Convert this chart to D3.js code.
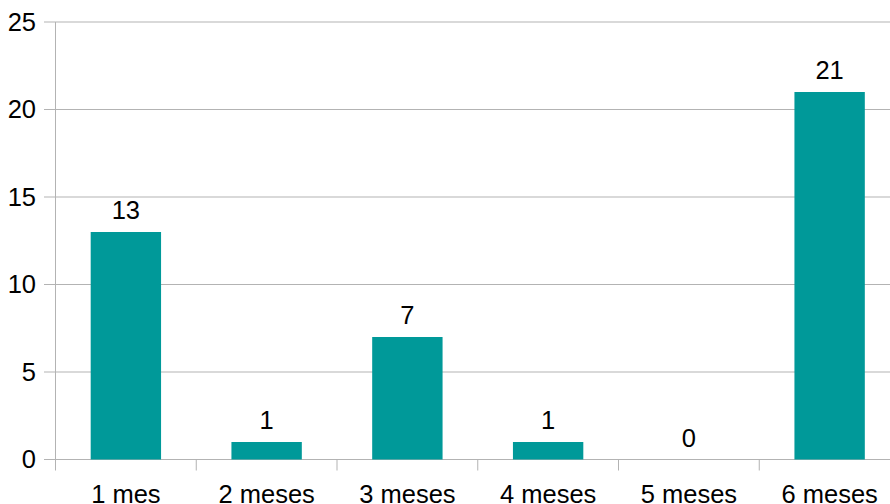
<!DOCTYPE html>
<html>
<head>
<meta charset="utf-8">
<script src="https://cdn.jsdelivr.net/npm/d3@7"></script>
<style>
  html, body { margin: 0; padding: 0; background: #fff; overflow: hidden; }
  svg { display: block; font-family: "Liberation Sans", Arial, sans-serif; }
</style>
</head>
<body>
<svg id="chart" width="890" height="504"></svg>
<script>
// Months of duration and number of responses per category
const categories = ["1 mes", "2 meses", "3 meses", "4 meses", "5 meses", "6 meses"];
const counts = [13, 1, 7, 1, 0, 21];
const yTicks = [0, 5, 10, 15, 20, 25];

const svg = d3.select("#chart");
const plotLeft = 55.5, plotRight = 900, plotTop = 22, plotBottom = 459.5;
const fontSize = 25.5;

const x = d3.scaleBand().domain(categories).range([plotLeft, plotRight]).paddingInner(0.5).paddingOuter(0.25);
const xStep = d3.scaleBand().domain(categories).range([plotLeft, plotRight]);
const y = d3.scaleLinear().domain([0, 25]).range([plotBottom, plotTop]);

const gridColor = "#b3b3b3";

// horizontal gridlines
svg.append("g")
  .selectAll("line")
  .data(yTicks)
  .join("line")
  .attr("x1", plotLeft - 11.5)
  .attr("x2", plotRight)
  .attr("y1", d => y(d))
  .attr("y2", d => y(d))
  .attr("stroke", gridColor)
  .attr("stroke-width", 1);

// vertical axis line
svg.append("line")
  .attr("x1", plotLeft).attr("x2", plotLeft)
  .attr("y1", plotTop).attr("y2", plotBottom + 11)
  .attr("stroke", gridColor);

// category boundary ticks below the baseline
svg.append("g")
  .selectAll("line")
  .data(categories.slice(1))
  .join("line")
  .attr("x1", d => xStep(d))
  .attr("x2", d => xStep(d))
  .attr("y1", plotBottom)
  .attr("y2", plotBottom + 11)
  .attr("stroke", gridColor);

// y tick labels
svg.append("g")
  .selectAll("text")
  .data(yTicks)
  .join("text")
  .attr("x", 36)
  .attr("y", d => y(d))
  .attr("dy", "0.35em")
  .attr("text-anchor", "end")
  .attr("font-size", fontSize)
  .attr("fill", "#000")
  .text(d => d);

// bars
svg.append("g")
  .selectAll("rect")
  .data(categories)
  .join("rect")
  .attr("x", d => x(d))
  .attr("width", x.bandwidth())
  .attr("y", (d, i) => y(counts[i]))
  .attr("height", (d, i) => y(0) - y(counts[i]))
  .attr("fill", "#009999");

// value labels above bars
svg.append("g")
  .selectAll("text")
  .data(categories)
  .join("text")
  .attr("x", d => x(d) + x.bandwidth() / 2)
  .attr("y", (d, i) => y(counts[i]) - 13)
  .attr("text-anchor", "middle")
  .attr("font-size", fontSize)
  .attr("fill", "#000")
  .text((d, i) => counts[i]);

// category labels
svg.append("g")
  .selectAll("text")
  .data(categories)
  .join("text")
  .attr("x", d => x(d) + x.bandwidth() / 2)
  .attr("y", 503)
  .attr("text-anchor", "middle")
  .attr("font-size", fontSize)
  .attr("fill", "#000")
  .text(d => d);
</script>
</body>
</html>
